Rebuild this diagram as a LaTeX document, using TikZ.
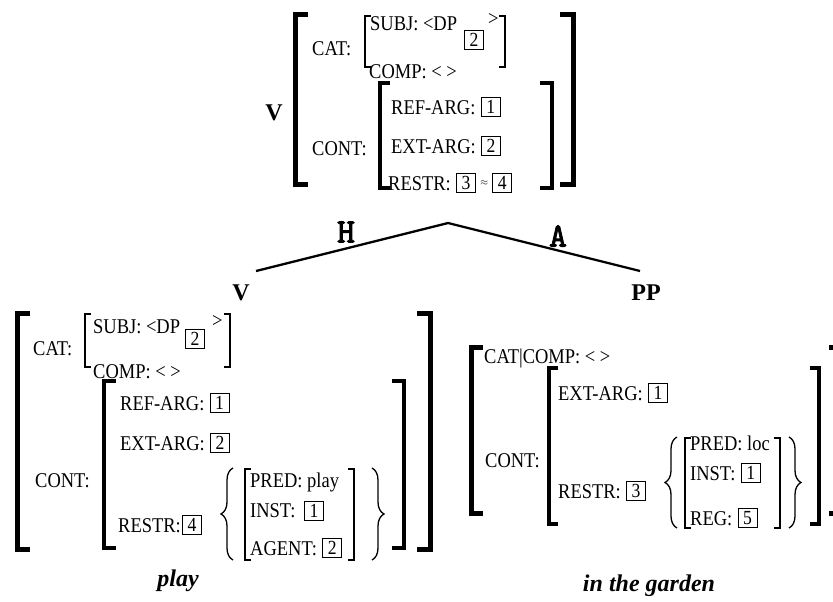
\documentclass[tikz,border=0pt]{standalone}
\usepackage{fontspec}
\setmainfont{Liberation Serif}[FakeStretch=0.88]
\newfontfamily\lblfont{Liberation Serif}
\newfontfamily\edgefont{lmmono10-regular.otf}[FakeBold=2.5]
\usetikzlibrary{positioning,decorations.pathreplacing}

\begin{document}
\begin{tikzpicture}[x=1pt,y=-1pt,
  avm/.style={inner sep=0pt, anchor=base west, font=\fontsize{21}{24}\selectfont},
  bx/.style={draw, line width=1.1pt, inner sep=0pt, minimum width=19pt, minimum height=19pt, font=\fontsize{20}{22}\selectfont},
  cat/.style={inner sep=0pt, font=\lblfont\bfseries\fontsize{24}{24}\selectfont},
  word/.style={inner sep=0pt, font=\lblfont\bfseries\itshape\fontsize{24}{24}\selectfont},
  edgelbl/.style={inner sep=0pt, font=\edgefont\fontsize{34}{34}\selectfont},
  outerbr/.style={line width=5pt},
  contbr/.style={line width=4pt},
  innerbr/.style={line width=1.7pt},
  brc/.style={line width=1.3pt, decorate, decoration={brace, amplitude=12pt}}]

  \newcommand\brL[5]{\draw[#5] (#1+#4,#2) -- (#1,#2) -- (#1,#3) -- (#1+#4,#3);}
  \newcommand\brR[5]{\draw[#5] (#1-#4,#2) -- (#1,#2) -- (#1,#3) -- (#1-#4,#3);}

  \useasboundingbox (0,0) rectangle (833,602);

  %% mother: V
  \node[cat] (tv) at (274,113) {V};
  \brL{295}{15}{184}{13}{outerbr}
  \brR{573}{15}{184}{13}{outerbr}
  \node[avm] (tcat) at (312,56) {CAT:};
  \brL{365}{16}{67}{6}{innerbr}
  \brR{505}{16}{67}{6}{innerbr}
  \node[avm] (tsubj) at (370,31) {SUBJ: <DP};
  \node[bx] (tsb) at (474,40) {2};
  \node[avm] (tgt) at (488,26) {>};
  \node[avm] (tcomp) at (369,78) {COMP: < >};
  \node[avm] (tcont) at (312,155) {CONT:};
  \brL{380}{83}{188}{10}{contbr}
  \brR{552}{83}{188}{12}{contbr}
  \node[avm] (tref) at (391,114) {REF-ARG:};
  \node[bx, right=5pt of tref] (tref1) {1};
  \node[avm] (text) at (391,153) {EXT-ARG:};
  \node[bx, right=5pt of text] (text2) {2};
  \node[avm] (trs) at (388,190) {RESTR:};
  \node[bx, right=5pt of trs] (trs3) {3};
  \node[inner sep=0pt, right=4pt of trs3] (tapx) {$\approx$};
  \node[bx, right=4pt of tapx] (trs4) {4};

  %% branches
  \coordinate (apex) at (448,223);
  \coordinate (hd) at (256,271);
  \coordinate (adj) at (640,271);
  \draw[line width=2.3pt] (hd) -- (apex) -- (adj);
  \node[edgelbl] (hlbl) at (346,232) {H};
  \node[edgelbl] (albl) at (558,236) {A};

  %% head daughter: V
  \node[cat] (lv) at (241,293) {V};
  \brL{17}{313}{549}{13}{outerbr}
  \brR{430}{313}{549}{13}{outerbr}
  \node[avm] (lcat) at (33,355) {CAT:};
  \brL{85}{314}{367}{6}{innerbr}
  \brR{230}{314}{367}{6}{innerbr}
  \node[avm] (lsubj) at (93,333) {SUBJ: <DP};
  \node[bx] (lsb) at (195,339) {2};
  \node[avm] (lgt) at (212,327) {>};
  \node[avm] (lcomp) at (93,378) {COMP: < >};
  \node[avm] (lcont) at (35,487) {CONT:};
  \brL{104}{381}{548}{12}{contbr}
  \brR{404}{381}{548}{12}{contbr}
  \node[avm] (lref) at (120,410) {REF-ARG:};
  \node[bx, right=5pt of lref] (lref1) {1};
  \node[avm] (lext) at (120,450) {EXT-ARG:};
  \node[bx, right=5pt of lext] (lext2) {2};
  \node[avm] (lrs) at (118,532) {RESTR:};
  \node[bx, right=1pt of lrs] (lrs4) {4};
  \draw[brc] (233,560) -- (233,468);
  \brL{245}{469}{560}{6}{innerbr}
  \brR{354}{469}{560}{6}{innerbr}
  \node[avm] (lpred) at (250,487) {PRED: play};
  \node[avm] (linst) at (250,517) {INST:};
  \node[bx] (linst1) at (314,511) {1};
  \node[avm] (lagt) at (250,555) {AGENT:};
  \node[bx, right=5pt of lagt] (lagt2) {2};
  \draw[brc] (372,468) -- (372,560);
  \node[word] (lword) at (178,581) {play};

  %% adjunct daughter: PP
  \node[cat] (rpp) at (646,293) {PP};
  \brL{471}{347}{513}{12}{outerbr}
  \brR{835}{347}{513}{6}{outerbr}
  \node[avm] (rcat) at (484,363) {CAT|COMP: < >};
  \node[avm] (rcont) at (485,467) {CONT:};
  \brL{549}{368}{524}{9}{contbr}
  \brR{819}{368}{524}{9}{contbr}
  \node[avm] (rext) at (558,400) {EXT-ARG:};
  \node[bx, right=5pt of rext] (rext1) {1};
  \node[avm] (rrs) at (558,498) {RESTR:};
  \node[bx, right=5pt of rrs] (rrs3) {3};
  \draw[brc] (677,528) -- (677,437);
  \brL{685}{438}{528}{6}{innerbr}
  \brR{780}{438}{528}{6}{innerbr}
  \node[avm] (rpred) at (690,450) {PRED: loc};
  \node[avm] (rinst) at (690,480) {INST:};
  \node[bx, right=5pt of rinst] (rinst1) {1};
  \node[avm] (rreg) at (690,525) {REG:};
  \node[bx, right=5pt of rreg] (rreg5) {5};
  \draw[brc] (789,437) -- (789,528);
  \node[word] (rword) at (649,586) {in the garden};
\end{tikzpicture}
\end{document}
